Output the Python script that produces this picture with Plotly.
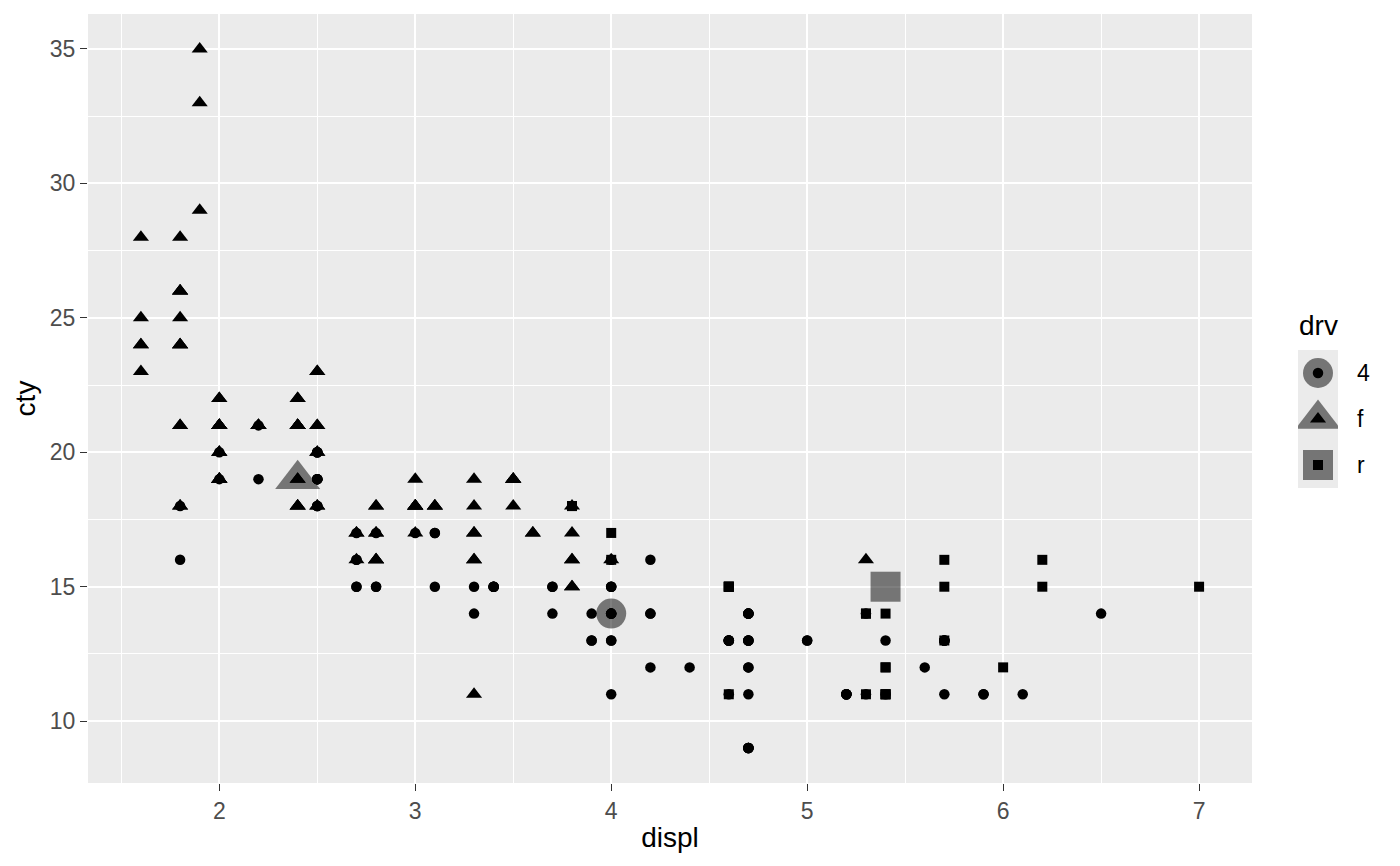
import plotly.graph_objects as go

# mpg data (234 rows): engine displacement, city mpg, drive train
displ = [
    1.8, 1.8, 2.0, 2.0, 2.8, 2.8, 3.1, 1.8, 1.8, 2.0, 2.0, 2.8, 2.8, 3.1, 3.1, 2.8, 3.1, 4.2,
    5.3, 5.3, 5.3, 5.7, 6.0, 5.7, 5.7, 6.2, 6.2, 7.0, 5.3, 5.3, 5.7, 6.5,
    2.4, 2.4, 3.1, 3.5, 3.6, 2.4, 3.0, 3.3, 3.3, 3.3, 3.3, 3.3, 3.8, 3.8, 3.8, 4.0,
    3.7, 3.7, 3.9, 3.9, 4.7, 4.7, 4.7, 5.2, 5.2, 3.9, 4.7, 4.7, 4.7, 5.2, 5.7, 5.9,
    4.7, 4.7, 4.7, 4.7, 4.7, 4.7, 5.2, 5.2, 5.7, 5.9,
    4.6, 5.4, 5.4,
    4.0, 4.0, 4.0, 4.0, 4.6, 5.0, 4.2, 4.2, 4.6, 4.6, 4.6, 5.4, 5.4,
    3.8, 3.8, 4.0, 4.0, 4.6, 4.6, 4.6, 4.6, 5.4,
    1.6, 1.6, 1.6, 1.6, 1.6, 1.8, 1.8, 1.8, 2.0, 2.4, 2.4, 2.4, 2.4, 2.5, 2.5, 3.3,
    2.0, 2.0, 2.0, 2.0, 2.7, 2.7, 2.7,
    3.0, 3.7, 4.0, 4.7, 4.7, 4.7, 5.7, 6.1, 4.0, 4.2, 4.4, 4.6,
    5.4, 5.4, 5.4,
    4.0, 4.0, 4.6, 5.0,
    2.4, 2.4, 2.5, 2.5, 3.5, 3.5, 3.0, 3.0, 3.5,
    3.3, 3.3, 4.0, 5.6,
    3.1, 3.8, 3.8, 3.8, 5.3,
    2.5, 2.5, 2.5, 2.5, 2.5, 2.5, 2.2, 2.2, 2.5, 2.5, 2.5, 2.5, 2.5, 2.5,
    2.7, 2.7, 3.4, 3.4, 4.0, 4.7,
    2.2, 2.2, 2.4, 2.4, 3.0, 3.0, 3.5, 2.2, 2.2, 2.4, 2.4, 3.0, 3.0, 3.3,
    1.8, 1.8, 1.8, 1.8, 1.8,
    4.7, 5.7, 2.7, 2.7, 2.7, 3.4, 3.4, 4.0, 4.0,
    2.0, 2.0, 2.0, 2.0, 2.8, 1.9, 2.0, 2.0, 2.0, 2.0, 2.5, 2.5, 2.8, 2.8,
    1.9, 1.9, 2.0, 2.0, 2.5, 2.5, 1.8, 1.8, 2.0, 2.0, 2.8, 2.8, 3.6,
]
cty = [
    18, 21, 20, 21, 16, 18, 18, 18, 16, 20, 19, 15, 17, 17, 15, 15, 17, 16,
    14, 11, 14, 13, 12, 16, 15, 16, 15, 15, 14, 11, 11, 14,
    19, 22, 18, 18, 17, 18, 17, 16, 16, 17, 17, 11, 15, 15, 16, 16,
    15, 14, 13, 14, 14, 14, 9, 11, 11, 13, 13, 9, 13, 11, 13, 11,
    12, 9, 13, 13, 12, 9, 11, 11, 13, 11,
    11, 11, 12,
    14, 15, 14, 13, 13, 13, 14, 14, 13, 13, 13, 11, 13,
    18, 18, 17, 16, 15, 15, 15, 15, 14,
    28, 24, 25, 23, 24, 26, 25, 24, 21, 18, 18, 21, 21, 18, 18, 19,
    19, 19, 20, 20, 17, 16, 17,
    17, 15, 15, 14, 9, 14, 13, 11, 11, 12, 12, 11,
    11, 11, 12,
    14, 13, 13, 13,
    21, 19, 23, 23, 19, 19, 18, 19, 19,
    14, 15, 14, 12,
    18, 16, 17, 18, 16,
    18, 18, 20, 19, 20, 18, 21, 19, 19, 19, 20, 19, 20, 19,
    15, 16, 15, 15, 16, 14,
    21, 21, 21, 21, 18, 18, 19, 21, 21, 21, 22, 18, 18, 18,
    24, 24, 26, 28, 26,
    11, 13, 15, 16, 17, 15, 15, 15, 16,
    21, 19, 21, 22, 17, 33, 21, 19, 22, 21, 21, 21, 16, 17,
    35, 29, 21, 19, 20, 20, 21, 18, 19, 21, 16, 18, 17,
]
drv = list(
    "f" * 7 + "4" * 11 + "r" * 10 + "4" * 4 + "f" * 16 + "4" * 26 + "r" * 3 +
    "4" * 13 + "r" * 9 + "f" * 23 + "4" * 12 + "r" * 3 + "4" * 4 + "f" * 9 +
    "4" * 4 + "f" * 5 + "4" * 20 + "f" * 19 + "4" * 9 + "f" * 27
)
assert len(displ) == len(cty) == len(drv) == 234, (len(displ), len(cty), len(drv))

# group medians (large grey points)
summary_drv = ["4", "f", "r"]
summary_displ = [4.0, 2.4, 5.4]
summary_cty = [14, 19, 15]

x_ticks = [2, 3, 4, 5, 6, 7]
y_ticks = [10, 15, 20, 25, 30, 35]

symbols = {"4": "circle", "f": "triangle-up", "r": "square"}
small_size = {"4": 10.5, "f": 14, "r": 10}
big_size = {"4": 30, "f": 39, "r": 30}
grey = "rgba(0,0,0,0.5)"

# page body has an 8px margin; work in screen pixels and convert
OFF = 8
W, H = 1392, 858
ML, MR, MT, MB = 88 - OFF, 0, 14 - OFF, H - (783 - OFF)
PW, PH = W - ML - MR, H - MT - MB
def px(xs): return (xs - OFF - ML) / PW
def py(ys): return (783 - ys) / PH

FONT = "Liberation Sans, Arial, Helvetica, sans-serif"

fig = go.Figure()
for g in summary_drv:
    xs = [displ[i] for i in range(len(drv)) if drv[i] == g]
    ys = [cty[i] for i in range(len(drv)) if drv[i] == g]
    fig.add_trace(go.Scatter(x=xs, y=ys, mode="markers", showlegend=False,
                             marker=dict(symbol=symbols[g], size=small_size[g], color="black",
                                         line=dict(width=0))))
for g, sx, sy in zip(summary_drv, summary_displ, summary_cty):
    fig.add_trace(go.Scatter(x=[sx], y=[sy], mode="markers", showlegend=False,
                             marker=dict(symbol=symbols[g], size=big_size[g], color=grey,
                                         line=dict(width=0))))

# legend keys drawn in an auxiliary subplot
for k, g in enumerate(summary_drv):
    fig.add_trace(go.Scatter(x=[0.5], y=[k + 0.5], xaxis="x2", yaxis="y2", mode="markers",
                             showlegend=False, hoverinfo="skip",
                             marker=dict(symbol=symbols[g], size=big_size[g], color=grey, line=dict(width=0))))
    fig.add_trace(go.Scatter(x=[0.5], y=[k + 0.5], xaxis="x2", yaxis="y2", mode="markers",
                             showlegend=False, hoverinfo="skip",
                             marker=dict(symbol=symbols[g], size=small_size[g], color="black", line=dict(width=0))))

tickfont = dict(family=FONT, size=23, color="#4D4D4D")
titlefont = dict(family=FONT, size=28, color="black")

fig.update_layout(
    width=W, height=H,
    margin=dict(l=ML, r=MR, t=MT, b=MB),
    paper_bgcolor="white", plot_bgcolor="#EBEBEB",
    font=dict(family=FONT),
    xaxis=dict(domain=[0, px(1252)], range=[1.33, 7.27], tickvals=x_ticks,
               ticktext=[str(v) for v in x_ticks],
               showgrid=True, gridcolor="white", gridwidth=1.8, zeroline=False,
               ticks="outside", ticklen=7, tickwidth=1.4, tickcolor="#333333",
               tickfont=tickfont, showline=False,
               minor=dict(dtick=0.5, tick0=1.5, showgrid=True, gridcolor="white", gridwidth=0.9, ticks=""),
               title=dict(text="displ", font=titlefont, standoff=4)),
    yaxis=dict(domain=[0, 1], range=[7.7, 36.3], tickvals=y_ticks,
               ticktext=[str(v) for v in y_ticks],
               showgrid=True, gridcolor="white", gridwidth=1.8, zeroline=False,
               ticks="outside", ticklen=7, tickwidth=1.4, tickcolor="#333333",
               tickfont=tickfont, showline=False,
               minor=dict(dtick=2.5, tick0=7.5, showgrid=True, gridcolor="white", gridwidth=0.9, ticks=""),
               title=dict(text="cty", font=titlefont, standoff=6)),
    xaxis2=dict(domain=[px(1298), px(1338)], range=[0, 1], visible=False, anchor="y2", fixedrange=True),
    yaxis2=dict(domain=[py(488), py(350)], range=[3, 0], visible=False, anchor="x2", fixedrange=True),
    showlegend=False,
)

fig.add_annotation(text="drv", xref="paper", yref="paper", x=px(1297), y=py(325),
                   xanchor="left", yanchor="middle", showarrow=False,
                   font=dict(family=FONT, size=28, color="black"))
for k, g in enumerate(summary_drv):
    fig.add_annotation(text=g, xref="paper", y=k + 0.5, yref="y2", x=px(1355),
                       xanchor="left", yanchor="middle", showarrow=False,
                       font=dict(family=FONT, size=23, color="black"))

fig.write_html("out.html")
